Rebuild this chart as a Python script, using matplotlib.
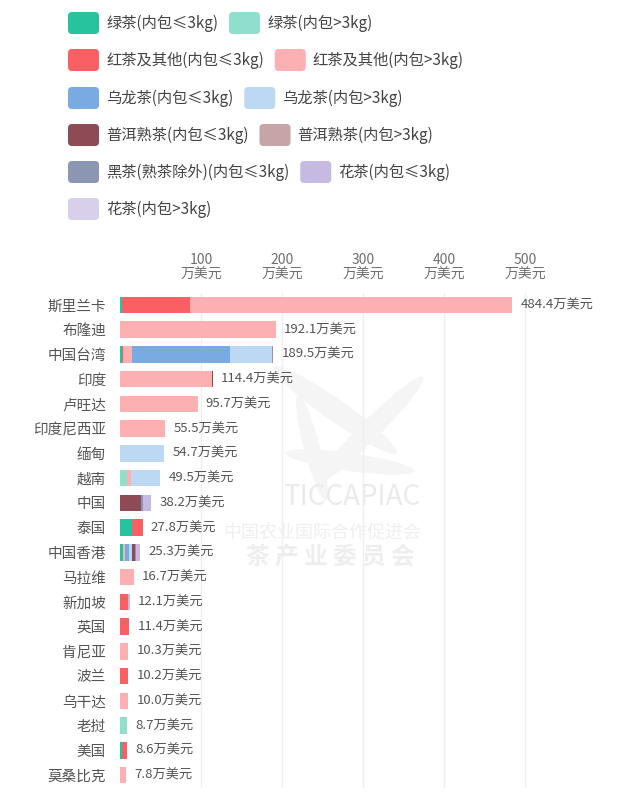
import matplotlib
matplotlib.use("Agg")
import matplotlib.pyplot as plt
from matplotlib.patches import FancyBboxPatch, Ellipse
import numpy as np

plt.rcParams['font.family'] = ['Noto Sans CJK SC', 'DejaVu Sans']

countries = ["斯里兰卡", "布隆迪", "中国台湾", "印度", "卢旺达", "印度尼西亚", "缅甸", "越南",
             "中国", "泰国", "中国香港", "马拉维", "新加坡", "英国", "肯尼亚", "波兰",
             "乌干达", "老挝", "美国", "莫桑比克"]
totals = [484.4, 192.1, 189.5, 114.4, 95.7, 55.5, 54.7, 49.5, 38.2, 27.8, 25.3,
          16.7, 12.1, 11.4, 10.3, 10.2, 10.0, 8.7, 8.6, 7.8]

# 万美元, one value per country (same order as countries)
green_small  = [2.0, 0, 2.5, 0, 0, 0, 0, 0, 0, 14.5, 4.1, 0, 0, 0, 0, 0, 0, 0, 3.0, 0]
green_big    = [0, 0, 0, 0, 0, 0, 0, 8.2, 0, 0, 0, 0, 0, 0, 0, 0, 0, 8.7, 0, 0]
black_small  = [84.8, 0, 1.6, 0, 0, 0, 0, 0, 0, 13.3, 0, 0, 10.0, 11.4, 0, 10.2, 0, 0, 5.6, 0]
black_big    = [397.6, 192.1, 10.7, 113.4, 95.7, 55.5, 0, 5.3, 0, 0, 1.6, 16.7, 0, 0, 10.3, 0, 10.0, 0, 0, 7.8]
oolong_small = [0, 0, 121.3, 0, 0, 0, 0, 0, 0, 0, 5.8, 0, 0, 0, 0, 0, 0, 0, 0, 0]
oolong_big   = [0, 0, 51.4, 0, 0, 0, 54.7, 36.0, 0, 0, 3.0, 0, 0, 0, 0, 0, 0, 0, 0, 0]
puer_small   = [0, 0, 0, 1.0, 0, 0, 0, 0, 26.5, 0, 4.5, 0, 0, 0, 0, 0, 0, 0, 0, 0]
puer_big     = [0] * 20
dark_small   = [0, 0, 2.0, 0, 0, 0, 0, 0, 1.5, 0, 1.0, 0, 0, 0, 0, 0, 0, 0, 0, 0]
flower_small = [0, 0, 0, 0, 0, 0, 0, 0, 10.2, 0, 5.3, 0, 2.1, 0, 0, 0, 0, 0, 0, 0]
flower_big   = [0] * 20

series = [green_small, green_big, black_small, black_big, oolong_small, oolong_big,
          puer_small, puer_big, dark_small, flower_small, flower_big]
names = ["绿茶(内包≤3kg)", "绿茶(内包>3kg)", "红茶及其他(内包≤3kg)", "红茶及其他(内包>3kg)",
         "乌龙茶(内包≤3kg)", "乌龙茶(内包>3kg)", "普洱熟茶(内包≤3kg)", "普洱熟茶(内包>3kg)",
         "黑茶(熟茶除外)(内包≤3kg)", "花茶(内包≤3kg)", "花茶(内包>3kg)"]
colors = ["#27c29e", "#90dfcc", "#fa6063", "#fcb0b2", "#79abe2", "#bdd8f2",
          "#8e4b55", "#c5a5a6", "#8b97b2", "#c6bae2", "#d8cfea"]

fig = plt.figure(figsize=(6.37, 8), dpi=100)
W, H = 637, 800

# background layer for legend and watermark (pixel coords)
bg = fig.add_axes([0, 0, 1, 1], zorder=0)
bg.set_xlim(0, W)
bg.set_ylim(H, 0)
bg.axis("off")

# faint watermark
for (cx, cy, w, h, a) in [(335, 410, 150, 22, 35), (370, 430, 150, 20, -45),
                          (350, 462, 130, 18, 8), (312, 448, 110, 16, 75)]:
    bg.add_patch(Ellipse((cx, cy), w, h, angle=a, color="#f5f5f5", lw=0))
bg.text(352, 497, "TICCAPIAC", fontsize=20, color="#ebebeb", ha="center", va="center")
bg.text(322, 533, "中国农业国际合作促进会", fontsize=13, color="#efefef", ha="center", va="center")
bg.text(330, 557, "茶 产 业 委 员 会", fontsize=17, color="#eeeeee", ha="center", va="center",
        fontweight="bold")

# legend, flow layout
rows = [[0, 1], [2, 3], [4, 5], [6, 7], [8, 9], [10]]
row_y = [23, 60, 98, 135, 172, 209]
renderer = fig.canvas.get_renderer()
for r, yc in zip(rows, row_y):
    x = 68
    for k in r:
        bg.add_patch(FancyBboxPatch((x, yc - 11), 31, 22, boxstyle="round,pad=0,rounding_size=4",
                                    fc=colors[k], ec="none"))
        t = bg.text(x + 38, yc, names[k], fontsize=11, color="#444444", va="center", ha="left")
        bb = t.get_window_extent(renderer=renderer)
        x = bb.x1 + 11

# main chart
ax = fig.add_axes([120 / W, 1 - 787.5 / H, 480 / W, (787.5 - 292.5) / H], zorder=1)
ax.patch.set_alpha(0)
y = np.arange(len(countries))
left = np.zeros(len(countries))
for vals, c in zip(series, colors):
    vals = np.array(vals, dtype=float)
    ax.barh(y, vals, left=left, height=0.67, color=c, lw=0)
    left += vals

for i, tot in enumerate(totals):
    ax.annotate(f"{tot}万美元", (left[i], i), xytext=(6, 0), textcoords="offset points",
                va="center", ha="left", fontsize=9.5, color="#555555")

ax.set_xlim(0, 480 / 0.81)
ax.set_ylim(len(countries) - 0.5, -0.5)
ax.set_yticks(y)
ax.set_yticklabels(countries, fontsize=10.5, color="#555555")
ax.xaxis.tick_top()
ticks = [100, 200, 300, 400, 500]
ax.set_xticks(ticks)
ax.set_xticklabels([f"{t}\n万美元" for t in ticks], fontsize=10, color="#6f6f6f", linespacing=1.0)
ax.tick_params(axis="both", length=0)
ax.tick_params(axis="x", pad=8)
ax.tick_params(axis="y", pad=10)
for s in ax.spines.values():
    s.set_visible(False)
ax.grid(axis="x", color="#efefef", lw=1)
ax.set_axisbelow(True)

fig.savefig("out.png", dpi=100, facecolor="white")
